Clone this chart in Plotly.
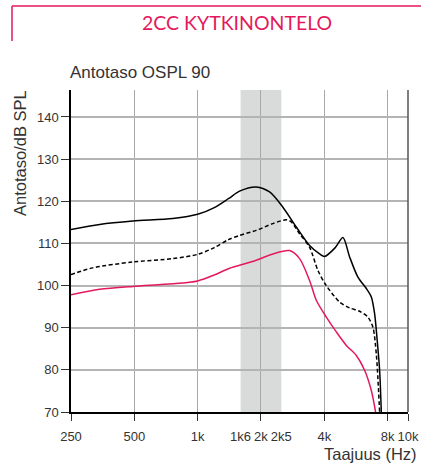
import plotly.graph_objects as go

# Frequencies (Hz) and levels (dB SPL)
freq_max = [250, 342, 492, 762, 1000, 1200, 1400, 1582, 1900, 2198, 2542, 2944,
            3405, 3800, 4010, 4510, 4905, 5278, 5780, 6338, 6693, 6940, 7115, 7330, 7465]
lvl_max = [113.3, 114.5, 115.3, 115.9, 116.9, 118.5, 120.6, 122.4, 123.4, 122.2, 118.6, 113.9,
           109.5, 107.5, 106.9, 109.0, 111.4, 106.8, 102.0, 99.3, 97.3, 93.3, 87.8, 79.9, 70.0]

freq_mid = [250, 317, 492, 762, 1000, 1200, 1400, 1582, 1900, 2278, 2639, 2787,
            3052, 3405, 3730, 4090, 4730, 5278, 5888, 6450, 6812, 7067, 7330]
lvl_mid = [102.6, 104.2, 105.6, 106.4, 107.4, 109.0, 110.9, 111.9, 113.1, 114.7, 115.6, 115.1,
           112.3, 109.1, 103.6, 100.0, 96.1, 94.7, 93.9, 92.5, 90.1, 83.8, 70.0]

freq_low = [250, 342, 492, 762, 1000, 1200, 1400, 1582, 1900, 2278, 2736, 3052,
            3405, 3665, 4090, 4563, 5092, 5680, 6220, 6693, 7013]
lvl_low = [97.8, 99.1, 99.8, 100.4, 101.1, 102.5, 104.0, 104.8, 106.0, 107.5, 108.3, 106.4,
           101.2, 96.5, 92.5, 89.0, 85.8, 83.4, 79.9, 75.1, 70.0]

x_tickvals = [250, 500, 1000, 2000, 4000, 8000, 10000]
x_ticktext = ["250", "500", "1k", "2k", "4k", "8k", "10k"]
x_extra_vals = [1600, 2500]
x_extra_text = ["1k6", "2k5"]
y_tickvals = [70, 80, 90, 100, 110, 120, 130, 140]
band = [1600, 2500]

PINK = "#e3195c"
TICKFONT = dict(family="Liberation Sans, Arial, sans-serif", size=13, color="#333333")
TEXTFONT = "Liberation Sans, Arial, sans-serif"
LOGR = [2.39794, 4.0]

fig = go.Figure()
fig.add_trace(go.Scatter(x=freq_max, y=lvl_max, mode="lines",
                         line=dict(color="black", width=1.5, shape="spline", smoothing=0.8)))
fig.add_trace(go.Scatter(x=freq_mid, y=lvl_mid, mode="lines",
                         line=dict(color="black", width=1.5, dash="4px,2.5px", shape="spline", smoothing=0.8)))
fig.add_trace(go.Scatter(x=freq_low, y=lvl_low, mode="lines",
                         line=dict(color=PINK, width=1.5, shape="spline", smoothing=0.8)))
# invisible trace anchoring the secondary label axis
fig.add_trace(go.Scatter(x=x_extra_vals, y=[None, None], xaxis="x2", mode="lines",
                         hoverinfo="skip", showlegend=False))

fig.add_shape(type="rect", xref="x", yref="paper", x0=band[0], x1=band[1], y0=0, y1=1,
              fillcolor="#d9dbdb", line_width=0, layer="below")
fig.add_shape(type="line", xref="paper", yref="paper", x0=1, x1=1, y0=0, y1=1,
              line=dict(color="#555555", width=1.5))

fig.update_layout(
    width=421, height=465,
    margin=dict(l=71, r=13, t=90, b=53),
    paper_bgcolor="white", plot_bgcolor="white",
    showlegend=False,
    xaxis=dict(type="log", range=LOGR, tickvals=x_tickvals, ticktext=x_ticktext,
               showgrid=True, gridcolor="#a8a8a8", gridwidth=1.3,
               showline=True, linecolor="black", linewidth=1.5,
               ticks="outside", ticklen=7, tickcolor="#333333", tickwidth=1.3,
               tickfont=TICKFONT, tickangle=0, automargin=False, ticklabelstandoff=5,
               zeroline=False, fixedrange=True),
    xaxis2=dict(type="log", range=LOGR, overlaying="x", anchor="y", side="bottom",
                tickvals=x_extra_vals, ticktext=x_extra_text, showgrid=False,
                ticks="outside", ticklen=7, tickcolor="rgba(0,0,0,0)", showline=False,
                tickfont=TICKFONT, tickangle=0, automargin=False, ticklabelstandoff=5,
                zeroline=False, fixedrange=True),
    yaxis=dict(range=[70, 146.4], tickvals=y_tickvals,
               showgrid=True, gridcolor="#b4b4b4", gridwidth=1.5,
               showline=True, linecolor="black", linewidth=1.5,
               ticks="outside", ticklen=8, tickcolor="#333333", tickwidth=1.3,
               tickfont=TICKFONT, automargin=False, zeroline=False, fixedrange=True),
)

fig.add_annotation(text="2CC KYTKINONTELO", xref="paper", yref="paper", x=(237 - 71) / 337, y=1,
                   xanchor="center", yanchor="middle", showarrow=False,
                   font=dict(family="Lato, Noto Sans, sans-serif", size=19.5, color=PINK),
                   yshift=90 - 22)
fig.add_annotation(text="Antotaso OSPL 90", xref="paper", yref="paper", x=0, y=1,
                   xanchor="left", yanchor="middle", showarrow=False, xshift=-3,
                   font=dict(family=TEXTFONT, size=17, color="#333333"),
                   yshift=90 - 72)
fig.add_annotation(text="Antotaso/dB SPL", xref="paper", yref="paper", x=0, y=1,
                   xanchor="center", yanchor="middle", showarrow=False, textangle=-90,
                   xshift=20 - 71, yshift=90 - 153,
                   font=dict(family=TEXTFONT, size=16.5, color="#333333"))
fig.add_annotation(text="Taajuus (Hz)", xref="paper", yref="paper", x=1, y=0,
                   xanchor="right", yanchor="middle", showarrow=False,
                   xshift=419 - 408, yshift=-(454 - 412),
                   font=dict(family=TEXTFONT, size=16.5, color="#333333"))

# header frame lines
fig.add_shape(type="line", xref="paper", yref="paper", x0=(12 - 71) / 337, x1=(421 - 71) / 337,
              y0=1 + (90 - 6) / 322, y1=1 + (90 - 6) / 322, line=dict(color=PINK, width=1.5))
fig.add_shape(type="line", xref="paper", yref="paper", x0=(12 - 71) / 337, x1=(12 - 71) / 337,
              y0=1 + (90 - 6) / 322, y1=1 + (90 - 41) / 322, line=dict(color=PINK, width=1.5))

fig.write_html("out.html", config={"displayModeBar": False},
               post_script="document.body.style.margin='0';")
